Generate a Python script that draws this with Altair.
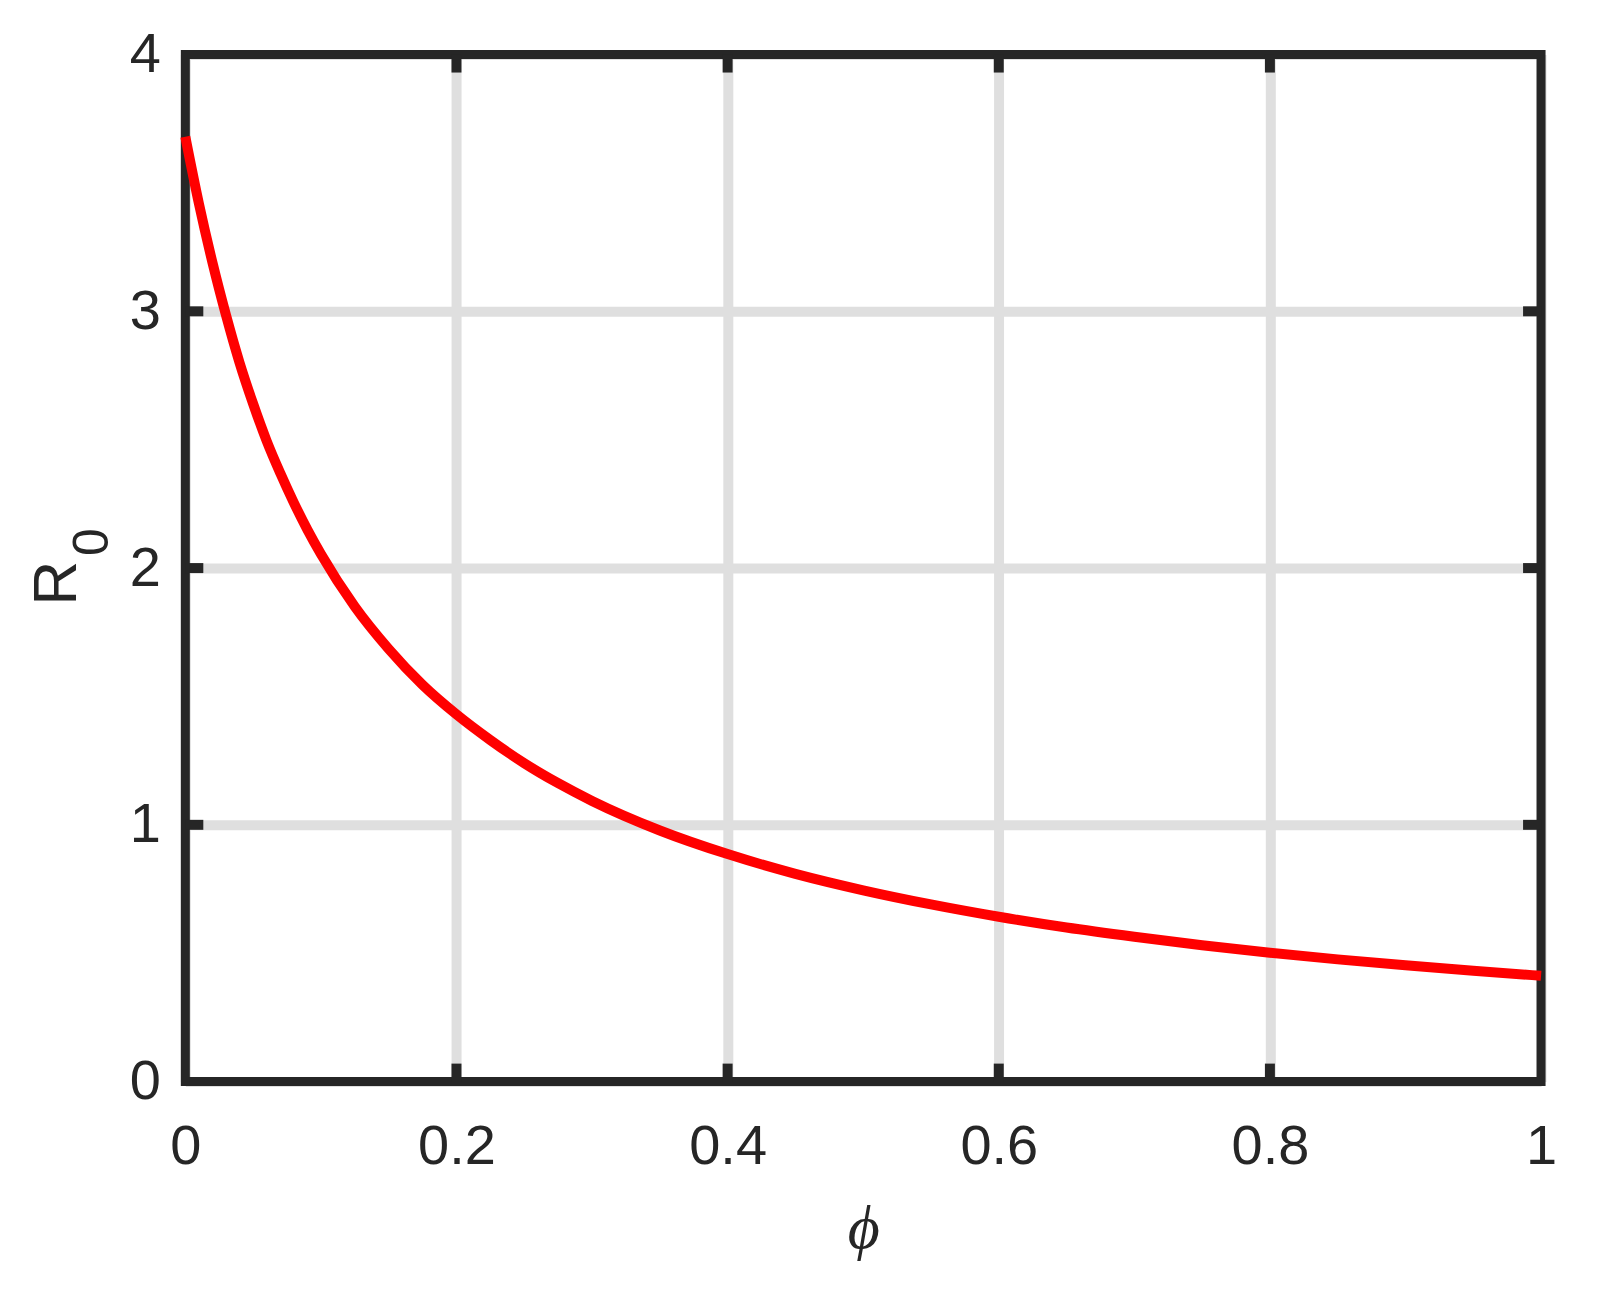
import altair as alt
import pandas as pd

# Data
phi = [0.0, 0.01, 0.02, 0.03, 0.04, 0.05, 0.06, 0.07, 0.08, 0.09, 0.10,
       0.125, 0.15, 0.175, 0.2, 0.225, 0.25, 0.275, 0.3, 0.35, 0.4, 0.45,
       0.5, 0.55, 0.6, 0.65, 0.7, 0.75, 0.8, 0.85, 0.9, 0.95, 1.0]
r0 = [3.68, 3.42, 3.19, 2.985, 2.80, 2.64, 2.495, 2.37, 2.255, 2.15, 2.055,
      1.85, 1.685, 1.545, 1.43, 1.33, 1.24, 1.162, 1.093, 0.978, 0.886, 0.809,
      0.745, 0.69, 0.642, 0.60, 0.564, 0.531, 0.502, 0.476, 0.453, 0.432, 0.412]

x_ticks = [0, 0.2, 0.4, 0.6, 0.8, 1]
y_ticks = [0, 1, 2, 3, 4]

W, H = 1357, 1028
DARK = "#262626"
GRID = "#dfdfdf"

df = pd.DataFrame({"phi": phi, "R0": r0})
xt = pd.DataFrame({"xt": x_ticks[1:-1]})
yt = pd.DataFrame({"yt": y_ticks[1:-1]})
one = pd.DataFrame({"k": [0]})

xscale = alt.Scale(domain=[0, 1], nice=False, zero=False)
yscale = alt.Scale(domain=[0, 4], nice=False, zero=False)

xaxis = alt.Axis(values=x_ticks, format="~g", title="ϕ", grid=True, gridColor=GRID,
                 gridWidth=10, domain=False, ticks=False, labelFont="Liberation Sans",
                 labelFontSize=56, labelColor=DARK, labelPadding=38,
                 titleFont="Liberation Serif", titleFontStyle="italic",
                 titleFontWeight="normal", titleFontSize=62, titleColor=DARK,
                 titlePadding=24, labelFlush=False, labelOverlap=False)
yaxis = alt.Axis(values=y_ticks, format="~g", title=None, grid=True, gridColor=GRID,
                 gridWidth=10, domain=False, ticks=False, labelFont="Liberation Sans",
                 labelFontSize=56, labelColor=DARK, labelPadding=25,
                 labelFlush=False, labelOverlap=False)

base = alt.Chart(df)

grid_layer = base.mark_line(opacity=0).encode(
    x=alt.X("phi:Q", scale=xscale, axis=xaxis),
    y=alt.Y("R0:Q", scale=yscale, axis=yaxis),
)

frame = alt.Chart(one).mark_rect(fill="transparent", stroke=DARK, strokeWidth=9).encode(
    x=alt.value(0), x2=alt.value(W), y=alt.value(0), y2=alt.value(H)
)

tick_top = alt.Chart(xt).mark_rule(color=DARK, strokeWidth=10).encode(
    x=alt.X("xt:Q", scale=xscale), y=alt.value(0), y2=alt.value(18))
tick_bot = alt.Chart(xt).mark_rule(color=DARK, strokeWidth=10).encode(
    x=alt.X("xt:Q", scale=xscale), y=alt.value(H), y2=alt.value(H - 18))
tick_left = alt.Chart(yt).mark_rule(color=DARK, strokeWidth=10).encode(
    y=alt.Y("yt:Q", scale=yscale), x=alt.value(0), x2=alt.value(18))
tick_right = alt.Chart(yt).mark_rule(color=DARK, strokeWidth=10).encode(
    y=alt.Y("yt:Q", scale=yscale), x=alt.value(W), x2=alt.value(W - 18))

curve = base.mark_line(color="#ff0000", strokeWidth=10, interpolate="monotone").encode(
    x=alt.X("phi:Q", scale=xscale),
    y=alt.Y("R0:Q", scale=yscale),
)

ylab_R = alt.Chart(one).mark_text(text="R", font="Liberation Sans", fontSize=62,
                                   color=DARK, angle=270, align="center",
                                   baseline="alphabetic").encode(
    x=alt.value(-109.5), y=alt.value(529))
ylab_0 = alt.Chart(one).mark_text(text="0", font="Liberation Sans", fontSize=50,
                                   color=DARK, angle=270, align="center",
                                   baseline="alphabetic").encode(
    x=alt.value(-77.5), y=alt.value(488))

chart = alt.layer(grid_layer, frame, tick_top, tick_bot, tick_left, tick_right,
                  curve, ylab_R, ylab_0).properties(
    width=W, height=H,
    autosize=alt.AutoSizeParams(type="none"),
    padding={"left": 177.5, "top": 46, "right": 50, "bottom": 195},
).configure_view(stroke=None).configure(background="white")

chart.save("out.html", embed_options={"renderer": "svg", "actions": False})
